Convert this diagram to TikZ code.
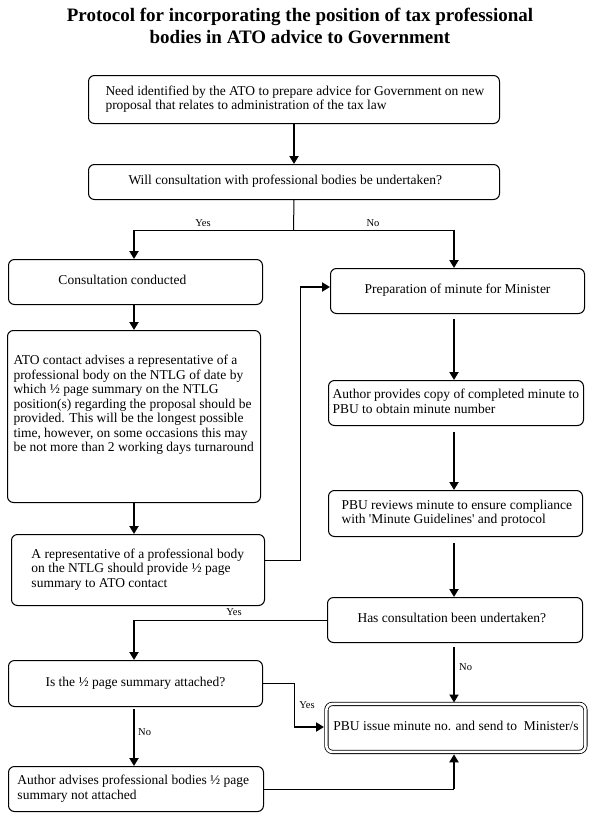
\documentclass[tikz,border=0pt]{standalone}
\usepackage{fontspec}
\setmainfont{Liberation Serif}[Ligatures=TeXOff]
\usetikzlibrary{arrows.meta}
\newcommand{\bfs}{\fontsize{13.5}{14.5}\selectfont}
\newcommand{\ltxt}[3]{\makebox[#1pt][l]{\hspace*{#2pt}\begin{tabular}{@{}l@{}}#3\end{tabular}}}
\newcommand{\ctxt}[2]{\makebox[#1pt][c]{\begin{tabular}{@{}c@{}}#2\end{tabular}}}
\begin{document}
\begin{tikzpicture}[x=1pt,y=-1pt,
  box/.style={draw, line width=1pt, rounded corners=6pt, inner sep=0pt, anchor=north west, font=\bfs},
  dbox/.style={box, double, double distance=2.6pt, line width=0.8pt},
  ln/.style={line width=1pt},
  arr/.style={line width=2pt, -{Triangle[length=8pt,width=9pt]}},
  lbl/.style={font=\fontsize{10.5}{12}\selectfont, inner sep=0pt}]
\useasboundingbox (0,0) rectangle (598,819);

\node[font=\fontsize{19}{22}\selectfont\bfseries, align=center] (title) at (300,26)
  {Protocol for incorporating the position of tax professional\\bodies in ATO advice to Government};

\node[box, minimum width=411pt, minimum height=48pt] (need) at (88,75)
  {\ltxt{411}{17}{Need identified by the ATO to prepare advice for Government on new\\proposal that relates to administration of the tax law}};
\node[box, minimum width=411pt, minimum height=35pt] (will) at (88,164)
  {\ltxt{411}{40}{Will consultation with professional bodies be undertaken?}};
\node[box, minimum width=254pt, minimum height=45pt] (cons) at (8,259)
  {\ltxt{254}{50}{Consultation conducted}};
\node[box, minimum width=253pt, minimum height=172pt] (ato) at (7,330)
  {\raisebox{11pt}[\height][\depth]{\ltxt{253}{6}{ATO contact advises a representative of a\\professional body on the NTLG of date by\\which ½ page summary on the NTLG\\position(s) regarding the proposal should be\\provided. This will be the longest possible\\time, however, on some occasions this may\\be not more than 2 working days turnaround}}};
\node[box, minimum width=253pt, minimum height=71pt] (rep) at (11,534)
  {\ltxt{253}{20}{A representative of a professional body\\on the NTLG should provide ½ page\\summary to ATO contact}};
\node[box, minimum width=254pt, minimum height=45pt] (prep) at (330,268)
  {\ctxt{254}{Preparation of minute for Minister}};
\node[box, minimum width=255pt, minimum height=45pt] (author) at (328,380)
  {\ltxt{255}{4}{Author provides copy of completed minute to\\PBU to obtain minute number}};
\node[box, minimum width=254pt, minimum height=46pt] (pbur) at (328,490)
  {\ltxt{254}{13}{PBU reviews minute to ensure compliance\\with 'Minute Guidelines' and protocol}};
\node[box, minimum width=255pt, minimum height=45pt] (has) at (327,597)
  {\ltxt{255}{30}{Has consultation been undertaken?}};
\node[box, minimum width=254pt, minimum height=46pt] (is) at (8,660)
  {\ctxt{254}{Is the ½ page summary attached?}};
\node[box, minimum width=255pt, minimum height=45pt] (adv) at (8,766)
  {\ltxt{255}{9}{Author advises professional bodies ½ page\\summary not attached}};
\node[dbox, minimum width=259pt, minimum height=48pt] (pbui) at (326,703.5)
  {\ltxt{259}{7}{PBU issue minute no. and send to\ \ Minister/s}};

\coordinate (cl) at (134,0);
\coordinate (cr) at (454,0);

% top
\draw[arr] (need.south) -- (will.north);
\coordinate (br) at (293.5,230);
\draw[ln] (will.south) -- (br);
\draw[ln] (br -| cl) -- (br -| cr);
\draw[arr] (br -| cl) -- (cons.north -| cl);
\draw[arr] (br -| cr) -- (prep.north -| cr);
\node[lbl] (yes1) at (203,223) {Yes};
\node[lbl] (no1) at (373,223) {No};

% left column
\draw[arr] (cons.south -| cl) -- (ato.north -| cl);
\draw[arr] (ato.south -| cl) -- (rep.north -| cl);
\coordinate (rp) at (300,560);
\coordinate (pin) at (300,287);
\draw[ln] (rep.east |- rp) -- (rp) -- (pin);
\draw[arr] (pin) -- (prep.west |- pin);

% right column
\draw[arr, shorten <=5pt] (prep.south -| cr) -- (author.north -| cr);
\draw[arr, shorten <=6pt] (author.south -| cr) -- (pbur.north -| cr);
\draw[arr, shorten <=6pt] (pbur.south -| cr) -- (has.north -| cr);

% has consultation
\draw[ln] (has.west) -- (has.west -| cl);
\draw[arr] (has.west -| cl) -- (is.north -| cl);
\node[lbl] (yes2) at (234,612) {Yes};
\draw[arr, shorten <=4pt, shorten >=1pt] (has.south -| cr) -- (pbui.north -| cr);
\node[lbl, anchor=west] (no2) at (459,667) {No};

% is attached
\coordinate (iy) at (294,727);
\draw[ln] (is.east) -- (is.east -| iy) -- (iy);
\draw[arr, shorten >=2pt] (iy) -- (pbui.west |- iy);
\node[lbl] (yes3) at (307,705) {Yes};
\draw[arr, shorten <=2pt] (is.south -| cl) -- (adv.north -| cl);
\node[lbl, anchor=west] (no3) at (138,732) {No};

% author advises
\draw[ln] (adv.east) -- (adv.east -| cr);
\draw[arr, shorten >=2pt] (adv.east -| cr) -- (pbui.south -| cr);
\end{tikzpicture}
\end{document}
